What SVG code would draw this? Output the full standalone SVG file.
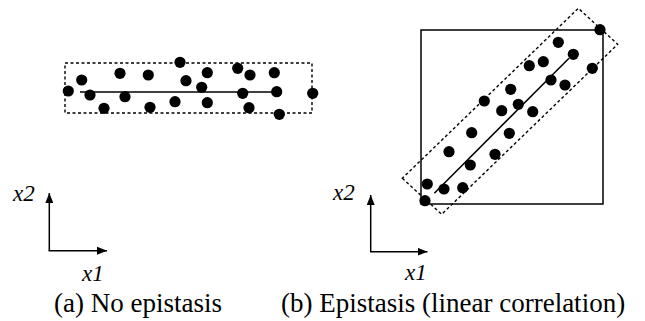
<svg xmlns="http://www.w3.org/2000/svg" width="645" height="321" viewBox="0 0 645 321">
<defs>
<marker id="ah" viewBox="0 0 10 8" refX="10" refY="4" markerWidth="10" markerHeight="8" markerUnits="userSpaceOnUse" orient="auto">
<path d="M0,0 L10,4 L0,8 Z" fill="#000"/>
</marker>
</defs>
<rect width="645" height="321" fill="#fff"/>
<g id="panel-a">
<rect x="65" y="63" width="247" height="50" fill="none" stroke="#000" stroke-width="1.4" stroke-dasharray="3,2.5"/>
<line x1="80" y1="92" x2="277" y2="92" stroke="#000" stroke-width="1.5"/>
<g fill="#000">
<circle cx="68.3" cy="91" r="5.6"/>
<circle cx="81.7" cy="80" r="5.6"/>
<circle cx="90" cy="95" r="5.6"/>
<circle cx="104" cy="108.3" r="5.6"/>
<circle cx="120" cy="73.3" r="5.6"/>
<circle cx="125" cy="96.7" r="5.6"/>
<circle cx="148.3" cy="75" r="5.6"/>
<circle cx="150" cy="107.3" r="5.6"/>
<circle cx="175" cy="101.7" r="5.6"/>
<circle cx="180" cy="62.3" r="5.6"/>
<circle cx="186" cy="80.7" r="5.6"/>
<circle cx="201.7" cy="87.3" r="5.6"/>
<circle cx="207.3" cy="72.7" r="5.6"/>
<circle cx="207.3" cy="102.7" r="5.6"/>
<circle cx="237.7" cy="68.3" r="5.6"/>
<circle cx="250" cy="75" r="5.6"/>
<circle cx="242.7" cy="93.3" r="5.6"/>
<circle cx="249" cy="107.7" r="5.6"/>
<circle cx="274.3" cy="72.7" r="5.6"/>
<circle cx="276.7" cy="91.7" r="5.6"/>
<circle cx="279.3" cy="114.3" r="5.6"/>
<circle cx="312.7" cy="93.3" r="5.6"/>
</g>
</g>
<g id="panel-b">
<rect x="421" y="30" width="182" height="174" fill="none" stroke="#000" stroke-width="1.5"/>
<polygon points="402.3,178.3 441.7,214.3 617.7,44.3 578.3,8.3" fill="none" stroke="#000" stroke-width="1.4" stroke-dasharray="3,2.5"/>
<line x1="434.3" y1="193.3" x2="569" y2="58.3" stroke="#000" stroke-width="1.5"/>
<g fill="#000">
<circle cx="425" cy="200.7" r="5.6"/>
<circle cx="427.3" cy="184" r="5.6"/>
<circle cx="444" cy="189" r="5.6"/>
<circle cx="462.7" cy="187.7" r="5.6"/>
<circle cx="470.3" cy="165" r="5.6"/>
<circle cx="449" cy="151.7" r="5.6"/>
<circle cx="495" cy="154.3" r="5.6"/>
<circle cx="471.7" cy="132.7" r="5.6"/>
<circle cx="509.3" cy="133.3" r="5.6"/>
<circle cx="484.3" cy="101" r="5.6"/>
<circle cx="501.7" cy="110.7" r="5.6"/>
<circle cx="518.3" cy="104.3" r="5.6"/>
<circle cx="532.7" cy="111.7" r="5.6"/>
<circle cx="510.7" cy="89.3" r="5.6"/>
<circle cx="529.3" cy="65.7" r="5.6"/>
<circle cx="543.3" cy="61.7" r="5.6"/>
<circle cx="551" cy="80" r="5.6"/>
<circle cx="565" cy="85" r="5.6"/>
<circle cx="558.3" cy="42.3" r="5.6"/>
<circle cx="573.3" cy="54.3" r="5.6"/>
<circle cx="592.3" cy="68.3" r="5.6"/>
<circle cx="600" cy="29.7" r="5.6"/>
</g>
</g>
<g id="connectors" stroke="#000" stroke-width="1.5" fill="none">
<path d="M49.3,251 L49.3,193" marker-end="url(#ah)"/>
<path d="M48.6,250.7 L107,250.7" marker-end="url(#ah)"/>
<path d="M370.7,252 L370.7,195" marker-end="url(#ah)"/>
<path d="M370,251.7 L427.5,251.7" marker-end="url(#ah)"/>
</g>
<g id="labels" fill="#000" font-family="Liberation Serif, Times New Roman, serif">
<text font-style="italic" font-size="23" x="13" y="201">x2</text>
<text font-style="italic" font-size="23" x="82" y="281">x1</text>
<text font-style="italic" font-size="23" x="333" y="200">x2</text>
<text font-style="italic" font-size="23" x="405" y="280">x1</text>
<text font-size="27" x="54" y="312">(a) No epistasis</text>
<text font-size="27" x="281" y="312">(b) Epistasis (linear correlation)</text>
</g>
</svg>
